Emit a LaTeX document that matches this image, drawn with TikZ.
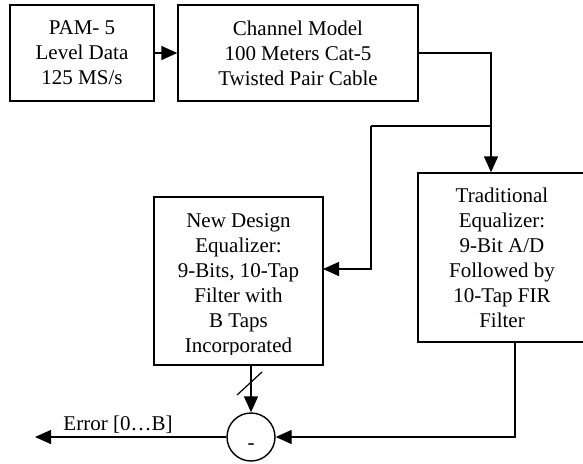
\documentclass[tikz,border=0pt]{standalone}
\usepackage{fontspec}
\setmainfont{Liberation Serif}
\usetikzlibrary{arrows.meta,positioning}

\begin{document}
\begin{tikzpicture}[x=1pt, y=-1pt, line width=1.4pt,
    >={Triangle[length=16pt,width=14pt]},
    txt/.style={font=\fontsize{21}{25}\selectfont, align=center},
    block/.style={draw, rectangle, inner sep=0pt, txt}]

\useasboundingbox (0,0) rectangle (583,463);

\node[block, minimum width=144pt, minimum height=96pt] (pam) at (82,53) {PAM- 5\\Level Data\\125 MS/s};
\node[block, minimum width=240pt, minimum height=96pt] (chan) at (298,53) {Channel Model\\100 Meters Cat-5\\Twisted Pair Cable};
\node[block, minimum width=168pt, minimum height=169pt] (trad) at (502,257.5) {Traditional\\Equalizer:\\9-Bit A/D\\Followed by\\10-Tap FIR\\Filter};
\node[block, minimum width=169pt, minimum height=168pt] (neq) at (238.5,281) {};
\begin{scope}
    \clip (neq.north west) rectangle ([yshift=11pt]neq.south east);
    \node[txt] (neqtext) at (238.5,285) {New Design\\Equalizer:\\9-Bits, 10-Tap\\Filter with\\B Taps\\Incorporated};
\end{scope}

\node[draw, circle, minimum size=48pt, inner sep=0pt] (sub) at (251,437) {};
\node[txt, inner sep=0pt] (minus) at ([yshift=-10pt]sub.center) {-};

\coordinate (split) at (491,126);
\coordinate (turn) at (371,126);
\coordinate (neqin) at (323,269);
\coordinate (errend) at (35,437);

\draw[->] (pam) -- (chan);
\draw[->] (chan.east) -| (split |- trad.north);
\draw (split) -- (turn);
\draw[->] (turn) |- (neqin);

\draw[->] (sub.north |- neq.south) -- (sub.north);
\draw[line width=1.2pt] (237,395) -- (262,372);
\draw[->] ([xshift=13pt]trad.south) |- (sub.east);

\draw[->] (sub.west) -- (errend);
\node[txt, anchor=base] (errlbl) at (118,430) {Error [0…B]};

\end{tikzpicture}
\end{document}
